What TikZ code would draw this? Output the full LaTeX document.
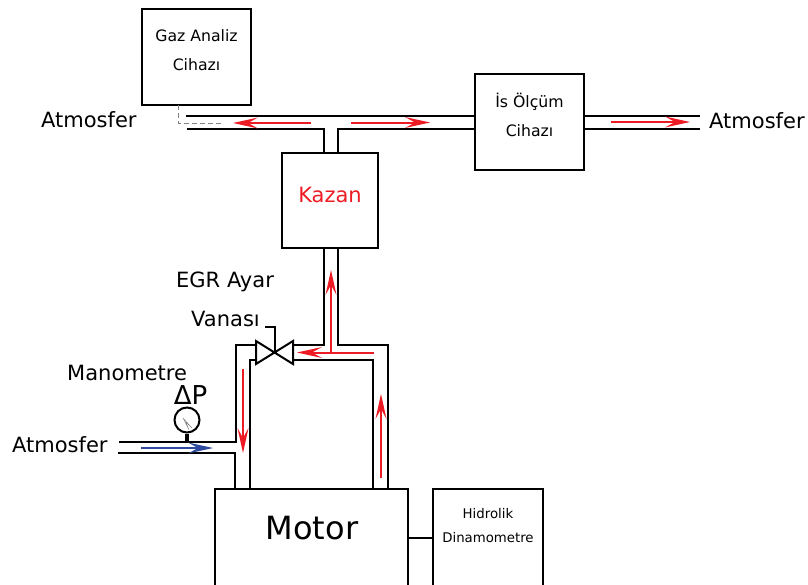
\documentclass[tikz,border=0pt]{standalone}
\usepackage{fontspec}
\setmainfont{DejaVu Sans}
\usepackage{xcolor}
\usetikzlibrary{arrows.meta,positioning,calc}
\definecolor{rflow}{HTML}{ED1C24}
\definecolor{bflow}{HTML}{2E4A9E}
\definecolor{gline}{HTML}{808080}
\tikzset{
 box/.style={draw=black,line width=2pt,inner sep=0pt,outer sep=0pt,fill=white},
 boxtext/.style={align=center,inner sep=0pt,font=\fontsize{15.7}{29}\selectfont},
 smalltext/.style={align=center,inner sep=0pt,font=\fontsize{13.3}{24}\selectfont},
 lbl/.style={inner sep=0pt,font=\fontsize{21}{25}\selectfont},
 pipe/.style={line width=2pt,draw=black},
 redarrow/.style={-{Stealth[length=25pt,width=11pt,inset=10pt,line width=0pt,fill=rflow]},line width=2pt,draw=rflow},
 bluearrow/.style={-{Stealth[length=25pt,width=11pt,inset=10pt,line width=0pt,fill=bflow]},line width=2pt,draw=bflow}
}
\begin{document}
\begin{tikzpicture}[x=1pt,y=-1pt]
 \useasboundingbox[fill=white] (0,0) rectangle (808,584);
 \node[box,minimum width=109pt,minimum height=96pt] (gaz) at (196.5,57) {};
 \node[boxtext] (gaztext) at (196.5,50) {Gaz Analiz\\Cihazı};
 \node[box,minimum width=109pt,minimum height=96pt] (is) at (529.5,122) {};
 \node[boxtext] (istext) at (529.5,115) {İs Ölçüm\\Cihazı};
 \node[box,minimum width=96pt,minimum height=95pt] (kazan) at (330,200.5) {};
 \node[lbl,text=rflow] (kazantext) at (330,195) {Kazan};
 \node[box,minimum width=193pt,minimum height=98pt] (motor) at (311.5,538) {};
 \node[inner sep=0pt,font=\fontsize{32}{36}\selectfont] (motortext) at (312,528) {Motor};
 \node[box,right=25pt of motor,minimum width=110pt,minimum height=98pt] (dyno) {};
 \node[smalltext] (dynotext) at (488,526) {Hidrolik\\Dinamometre};
 \draw[pipe,line width=1.4pt] (motor)--(dyno);
 \draw[pipe] (186,116)--(is.west |- 0,116);
 \draw[pipe] (187,129)--(323.5,129)--(323.5,153);
 \draw[pipe] (338,153)--(338,129)--(475,129);
 \draw[pipe] (584,116)--(700,116);
 \draw[pipe] (584,129)--(700,129);
 \draw[pipe] (323.5,248)--(323.5,345)--(293,345);
 \draw[pipe] (338,248)--(338,345)--(388,345)--(388,489);
 \draw[pipe] (293,360)--(373,360)--(373,489);
 \draw[pipe] (256,345)--(236,345)--(236,441.5)--(119,441.5);
 \draw[pipe] (256,360)--(250,360)--(250,489);
 \draw[pipe] (118,453)--(235,453)--(235,489);
 \draw[pipe,line join=miter,fill=white] (256,341)--(293,364)--(293,341)--(256,364)--cycle;
 \draw[line width=1.5pt] (275,352.5)--(275,327)--(265,327);
 \draw[gline,dash pattern=on 5pt off 3pt,line width=1pt] (178,105)--(178,123)--(221,123);
 \node[draw=black,circle,line width=2pt,minimum size=25pt,inner sep=0pt,fill=white] (gauge) at (187,420) {};
 \draw[line width=4pt] (gauge.south)--(187,441);
 \draw[gline,line width=0.4pt] (183,418)--(192,428)--(186,422)--(189,430)--(183,418);
 \draw[redarrow] (311,123)--(233,123);
 \draw[redarrow] (351,122.5)--(430,122.5);
 \draw[redarrow] (611,122)--(690,122);
 \draw[redarrow] (374,352.5)--(297,352.5);
 \draw[redarrow] (331,352.5)--(331,270);
 \draw[redarrow] (243,369)--(243,453);
 \draw[redarrow] (381,478)--(381,394);
 \draw[bluearrow] (141,448)--(213,448);
 \node[lbl,anchor=west] (atmleft) at (41,120) {Atmosfer};
 \node[lbl,anchor=west] (atmright) at (709,121) {Atmosfer};
 \node[lbl,anchor=west] (atmlow) at (12,445) {Atmosfer};
 \node[lbl,anchor=west] (egr) at (176,282) {EGR Ayar};
 \node[lbl,anchor=west] (vanasi) at (191,319) {Vanası};
 \node[lbl,anchor=west] (mano) at (67,373) {Manometre};
 \node[inner sep=0pt,font=\fontsize{26}{30}\selectfont] (dp) at (190.5,395) {ΔP};
\end{tikzpicture}
\end{document}
